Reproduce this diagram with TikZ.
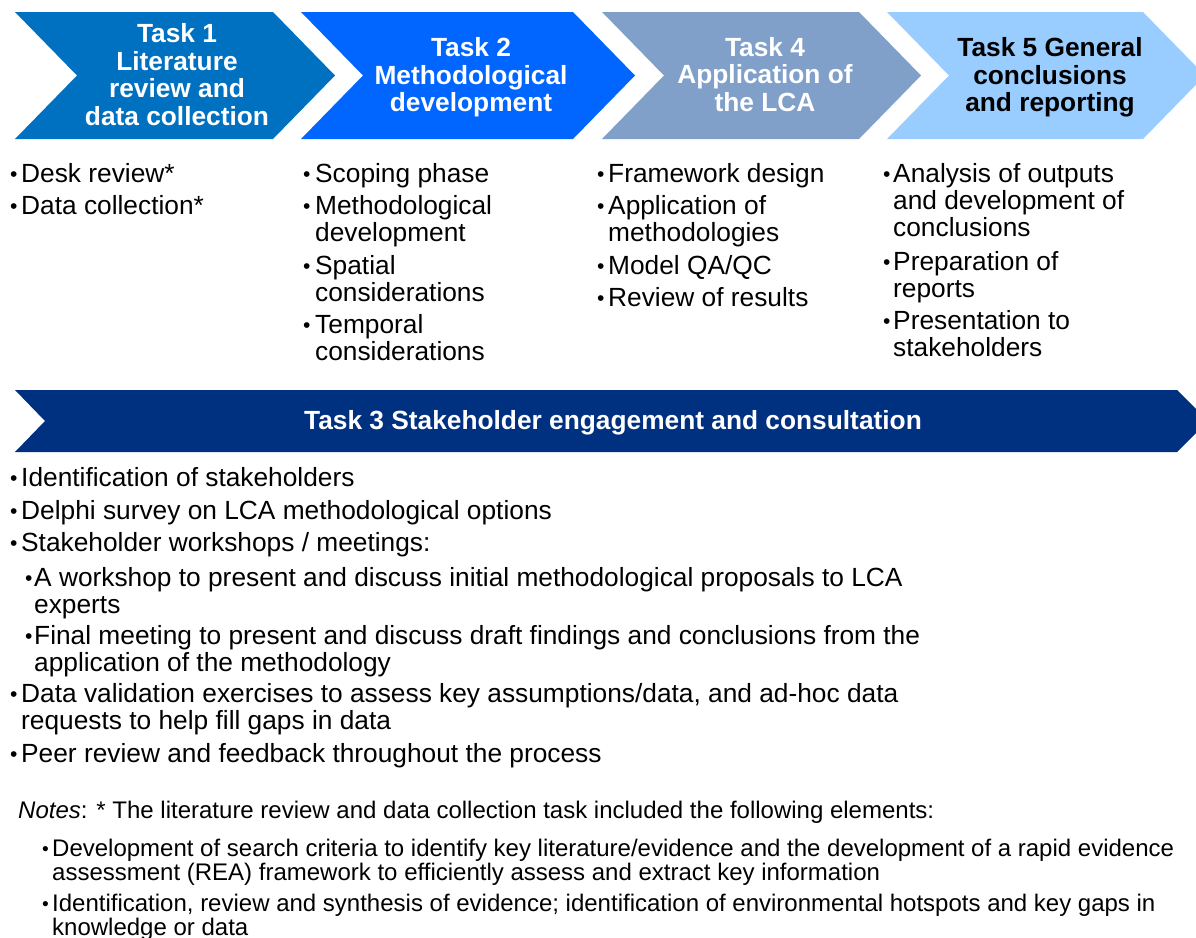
\documentclass[tikz,border=0pt]{standalone}
\usepackage{fontspec}
\setmainfont{Liberation Sans}
\usetikzlibrary{positioning}
\definecolor{taskone}{RGB}{0,112,192}
\definecolor{tasktwo}{RGB}{0,102,255}
\definecolor{taskfour}{RGB}{128,159,201}
\definecolor{taskfive}{RGB}{153,204,255}
\definecolor{taskthree}{RGB}{0,48,128}
\newcommand{\headfont}{\fontsize{26.3}{27.6}\selectfont\bfseries}
\newcommand{\bodyfont}{\fontsize{26.3}{27.2}\selectfont}
\newcommand{\notefont}{\fontsize{24}{24}\selectfont}
\newcommand{\bulletdot}{\raisebox{0.03em}{\scalebox{0.8}{\textbullet}}}
\newcommand{\blist}[2][11pt]{\makebox[#1][l]{\bulletdot}\begin{tabular}[t]{@{}l@{}}#2\end{tabular}}

\begin{document}
\begin{tikzpicture}[
  x=1pt,y=-1pt,
  head/.style={align=center,font=\headfont,text=white,inner sep=0pt},
  itm/.style={anchor=base west,inner sep=0pt,font=\bodyfont},
  note/.style={itm,font=\notefont}
]
\path[use as bounding box] (0,0) rectangle (1196,937);
% task chevrons
\fill[taskone] (15,12) -- (273,12) -- (335,75.5) -- (273,139) -- (15,139) -- (77,75.5) -- cycle;
\fill[tasktwo] (301,12) -- (573,12) -- (635,75.5) -- (573,139) -- (301,139) -- (363,75.5) -- cycle;
\fill[taskfour] (602,12) -- (859,12) -- (921,75.5) -- (859,139) -- (602,139) -- (664,75.5) -- cycle;
\fill[taskfive] (887,12) -- (1143,12) -- (1205,75.5) -- (1143,139) -- (887,139) -- (949,75.5) -- cycle;
\fill[taskthree] (15,390) -- (1177,390) -- (1208,421) -- (1177,452) -- (15,452) -- (45,421) -- cycle;
\node[head] (t1) at (177,74.5) {Task 1\\Literature\\review and\\data collection};
\node[head] (t2) at (471,77.5) {Task 2\\Methodological\\development};
\node[head] (t4) at (765,74.5) {Task 4\\Application of\\the LCA};
\node[head,text=black] (t5) at (1050,77.5) {Task 5 General\\conclusions\\and reporting};
\node[head] (t3) at (613,423) {Task 3 Stakeholder engagement and consultation};
% task columns
\node[itm] (desk) at (10,182) {\blist{Desk review*}};
\node[itm] (datacol) at (10,214) {\blist{Data collection*}};
\node[itm] (scoping) at (303,182) {\blist[12pt]{Scoping phase}};
\node[itm] (methdev) at (303,214) {\blist[12pt]{Methodological\\development}};
\node[itm] (spatial) at (303,274) {\blist[12pt]{Spatial\\considerations}};
\node[itm] (temporal) at (303,333) {\blist[12pt]{Temporal\\considerations}};
\node[itm] (frame) at (597,182) {\blist{Framework design}};
\node[itm] (applic) at (597,214) {\blist{Application of\\methodologies}};
\node[itm] (qaqc) at (597,274) {\blist{Model QA/QC}};
\node[itm] (results) at (597,306) {\blist{Review of results}};
\node[itm] (outputs) at (883,182) {\blist[10pt]{Analysis of outputs\\and development of\\conclusions}};
\node[itm] (reports) at (883,270) {\blist[10pt]{Preparation of\\reports}};
\node[itm] (present) at (883,329) {\blist[10pt]{Presentation to\\stakeholders}};
% stakeholder engagement
\node[itm] (ident) at (10,486) {\blist{Identification of stakeholders}};
\node[itm] (delphi) at (10,519) {\blist{Delphi survey on LCA methodological options}};
\node[itm] (meet) at (10,551) {\blist{Stakeholder workshops / meetings:}};
\node[itm] (wshop) at (25,586) {\blist[9pt]{A workshop to present and discuss initial methodological proposals to LCA\\experts}};
\node[itm] (final) at (25,644) {\blist[9pt]{Final meeting to present and discuss draft findings and conclusions from the\\application of the methodology}};
\node[itm] (valid) at (10,702) {\blist{Data validation exercises to assess key assumptions/data, and ad-hoc data\\requests to help fill gaps in data}};
\node[itm] (peer) at (10,762) {\blist{Peer review and feedback throughout the process}};
% notes
\node[note] (notes) at (18,818) {\textit{Notes}: * The literature review and data collection task included the following elements:};
\node[note] (crit) at (42,856) {\blist[10pt]{Development of search criteria to identify key literature/evidence and the development of a rapid evidence\\assessment (REA) framework to efficiently assess and extract key information}};
\node[note] (synth) at (42,911) {\blist[10pt]{Identification, review and synthesis of evidence; identification of environmental hotspots and key gaps in\\knowledge or data}};
\end{tikzpicture}
\end{document}
